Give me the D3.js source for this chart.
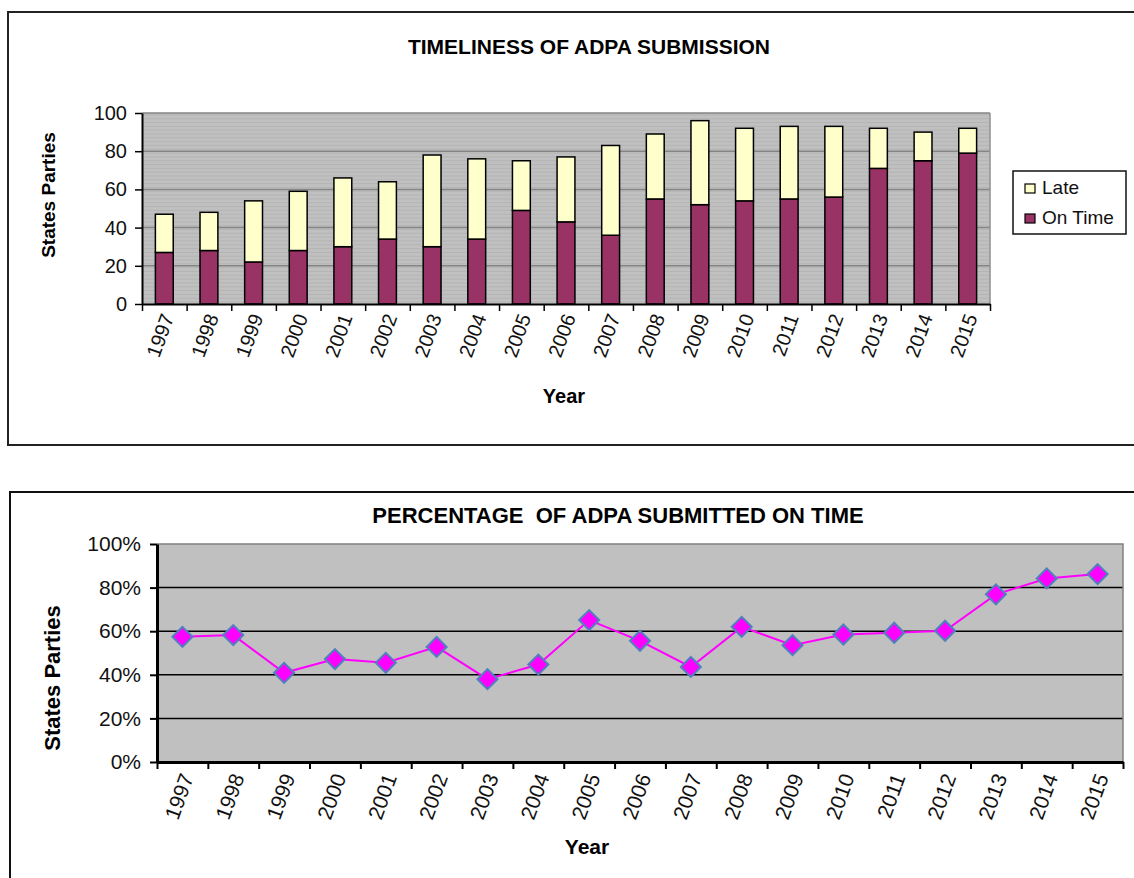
<!DOCTYPE html>
<html>
<head>
<meta charset="utf-8">
<script src="https://cdn.jsdelivr.net/npm/d3@7"></script>
<style>
  html, body { margin: 0; padding: 0; background: #fff; }
  svg { display: block; font-family: Arial, "Liberation Sans", sans-serif; }
</style>
</head>
<body>
<svg id="chart" width="1134" height="878"></svg>
<script>
// chart data
const years = ['1997', '1998', '1999', '2000', '2001', '2002', '2003', '2004', '2005', '2006',
               '2007', '2008', '2009', '2010', '2011', '2012', '2013', '2014', '2015'];
const onTime = [27, 28, 22, 28, 30, 34, 30, 34, 49, 43, 36, 55, 52, 54, 55, 56, 71, 75, 79];
const late   = [20, 20, 32, 31, 36, 30, 48, 42, 26, 34, 47, 34, 44, 38, 38, 37, 21, 15, 13];
const pctOnTime = [57.4, 58.2, 40.9, 47.2, 45.5, 52.8, 38.0, 44.7, 65.1, 55.6,
                   43.6, 62.0, 53.6, 58.5, 59.3, 60.2, 76.9, 84.2, 86.2];
const countTicks = [0, 20, 40, 60, 80, 100];
const pctTicks = [0, 0.2, 0.4, 0.6, 0.8, 1];
const seriesNames = ['Late', 'On Time'];
const seriesColors = { 'On Time': '#993366', 'Late': '#ffffcc' };

const svg = d3.select('#chart');

// ---------- top chart: stacked bars ----------
const area1 = { left: 142, right: 990, top: 113, bottom: 304 };

svg.append('rect')
    .attr('x', 8).attr('y', 12).attr('width', 1200).attr('height', 433)
    .attr('fill', 'none').attr('stroke', '#222').attr('stroke-width', 2);

const x1 = d3.scaleBand().domain(years).range([area1.left, area1.right])
    .paddingInner(0.6).paddingOuter(0.3);
const x1Edges = d3.scaleLinear().domain([0, years.length]).range([area1.left, area1.right]);
const y1 = d3.scaleLinear().domain([0, 100]).range([area1.bottom, area1.top]);

svg.append('rect')
    .attr('x', area1.left).attr('y', area1.top)
    .attr('width', area1.right - area1.left).attr('height', area1.bottom - area1.top)
    .attr('fill', '#c0c0c0');

// faint striped texture of the plot fill
svg.append('g').selectAll('line')
    .data(d3.range(1, 100, 2))
    .join('line')
    .attr('x1', area1.left).attr('x2', area1.right)
    .attr('y1', d => y1(d)).attr('y2', d => y1(d))
    .attr('stroke', '#b4b4b4').attr('stroke-width', 1);

svg.append('g').selectAll('line')
    .data(countTicks.slice(1))
    .join('line')
    .attr('x1', area1.left).attr('x2', area1.right)
    .attr('y1', d => y1(d)).attr('y2', d => y1(d))
    .attr('stroke', '#858585').attr('stroke-width', 1.5);

svg.append('line')
    .attr('x1', area1.right).attr('x2', area1.right)
    .attr('y1', area1.top).attr('y2', area1.bottom)
    .attr('stroke', '#909090').attr('stroke-width', 1.5);

const stacked = d3.stack().keys(['On Time', 'Late'])(
    years.map((y, i) => ({ year: y, 'On Time': onTime[i], 'Late': late[i] }))
);

svg.append('g').selectAll('g')
    .data(stacked)
    .join('g')
    .attr('fill', d => seriesColors[d.key])
    .selectAll('rect')
    .data(d => d)
    .join('rect')
    .attr('x', d => x1(d.data.year))
    .attr('width', x1.bandwidth())
    .attr('y', d => y1(d[1]))
    .attr('height', d => y1(d[0]) - y1(d[1]))
    .attr('stroke', '#000').attr('stroke-width', 1.5);

const yAxis1 = svg.append('g')
    .attr('transform', `translate(${area1.left},0)`)
    .call(d3.axisLeft(y1).tickValues(countTicks).tickSize(7).tickPadding(8).tickSizeOuter(0));
yAxis1.select('.domain').attr('stroke', '#000').attr('stroke-width', 2);
yAxis1.selectAll('.tick line').attr('stroke', '#000').attr('stroke-width', 1.5);
yAxis1.selectAll('text').attr('font-size', 20).attr('fill', '#111')
    .attr('font-family', 'Arial, "Liberation Sans", sans-serif');

const xEdges1 = svg.append('g')
    .attr('transform', `translate(0,${area1.bottom})`)
    .call(d3.axisBottom(x1Edges).ticks(years.length).tickFormat('').tickSize(7).tickSizeOuter(0));
xEdges1.select('.domain').attr('stroke', '#000').attr('stroke-width', 2);
xEdges1.selectAll('.tick line').attr('stroke', '#000').attr('stroke-width', 1.5);

const xLabels1 = svg.append('g')
    .attr('transform', `translate(0,${area1.bottom})`)
    .call(d3.axisBottom(x1).tickSize(0).tickPadding(0));
xLabels1.select('.domain').remove();
xLabels1.selectAll('text')
    .attr('font-size', 20).attr('fill', '#111')
    .attr('font-family', 'Arial, "Liberation Sans", sans-serif')
    .attr('text-anchor', 'end')
    .attr('dy', null)
    .attr('transform', 'translate(10,13) rotate(-70)');

svg.append('text')
    .attr('x', 589).attr('y', 54)
    .attr('text-anchor', 'middle')
    .attr('font-size', 21).attr('font-weight', 'bold')
    .text('TIMELINESS OF ADPA SUBMISSION');

svg.append('text')
    .attr('transform', 'translate(55,195) rotate(-90)')
    .attr('text-anchor', 'middle')
    .attr('font-size', 19).attr('font-weight', 'bold')
    .text('States Parties');

svg.append('text')
    .attr('x', 564).attr('y', 403)
    .attr('text-anchor', 'middle')
    .attr('font-size', 20).attr('font-weight', 'bold')
    .text('Year');

// legend
const legend = svg.append('g').attr('transform', 'translate(1013,171)');
legend.append('rect')
    .attr('width', 113).attr('height', 63)
    .attr('fill', '#fff').attr('stroke', '#111').attr('stroke-width', 1.5);
const legendItem = legend.selectAll('g.item')
    .data(seriesNames)
    .join('g')
    .attr('class', 'item')
    .attr('transform', (d, i) => `translate(12,${13 + i * 30})`);
legendItem.append('rect')
    .attr('width', 10).attr('height', 9)
    .attr('fill', d => seriesColors[d]).attr('stroke', '#000').attr('stroke-width', 1.2);
legendItem.append('text')
    .attr('x', 17).attr('y', 10)
    .attr('font-size', 19).attr('fill', '#111')
    .text(d => d);

// ---------- bottom chart: percentage line ----------
const area2 = { left: 157, right: 1123, top: 544, bottom: 762 };

svg.append('rect')
    .attr('x', 10).attr('y', 492).attr('width', 1200).attr('height', 500)
    .attr('fill', 'none').attr('stroke', '#111').attr('stroke-width', 2);

const x2 = d3.scalePoint().domain(years).range([area2.left, area2.right]).padding(0.5);
const x2Edges = d3.scaleLinear().domain([0, years.length]).range([area2.left, area2.right]);
const y2 = d3.scaleLinear().domain([0, 1]).range([area2.bottom, area2.top]);

svg.append('rect')
    .attr('x', area2.left).attr('y', area2.top)
    .attr('width', area2.right - area2.left).attr('height', area2.bottom - area2.top)
    .attr('fill', '#c0c0c0');

svg.append('g').selectAll('line')
    .data(pctTicks.slice(1, -1))
    .join('line')
    .attr('x1', area2.left).attr('x2', area2.right)
    .attr('y1', d => y2(d)).attr('y2', d => y2(d))
    .attr('stroke', '#000').attr('stroke-width', 1.5);

svg.append('path')
    .attr('d', `M${area2.left},${area2.top}H${area2.right}V${area2.bottom}`)
    .attr('fill', 'none').attr('stroke', '#808080').attr('stroke-width', 1.5);

const yAxis2 = svg.append('g')
    .attr('transform', `translate(${area2.left},0)`)
    .call(d3.axisLeft(y2).tickValues(pctTicks).tickFormat(d3.format('.0%'))
        .tickSize(7).tickPadding(9).tickSizeOuter(0));
yAxis2.select('.domain').attr('stroke', '#000').attr('stroke-width', 3);
yAxis2.selectAll('.tick line').attr('stroke', '#000').attr('stroke-width', 2);
yAxis2.selectAll('text').attr('font-size', 21).attr('fill', '#111')
    .attr('font-family', 'Arial, "Liberation Sans", sans-serif');

const xEdges2 = svg.append('g')
    .attr('transform', `translate(0,${area2.bottom})`)
    .call(d3.axisBottom(x2Edges).ticks(years.length).tickFormat('').tickSize(7).tickSizeOuter(0));
xEdges2.select('.domain').attr('stroke', '#000').attr('stroke-width', 3);
xEdges2.selectAll('.tick line').attr('stroke', '#000').attr('stroke-width', 2);

const xLabels2 = svg.append('g')
    .attr('transform', `translate(0,${area2.bottom})`)
    .call(d3.axisBottom(x2).tickSize(0).tickPadding(0));
xLabels2.select('.domain').remove();
xLabels2.selectAll('text')
    .attr('font-size', 21).attr('fill', '#111')
    .attr('font-family', 'Arial, "Liberation Sans", sans-serif')
    .attr('text-anchor', 'end')
    .attr('dy', null)
    .attr('transform', 'translate(11,15) rotate(-70)');

const line = d3.line()
    .x((d, i) => x2(years[i]))
    .y(d => y2(d / 100));

svg.append('path')
    .datum(pctOnTime)
    .attr('d', line)
    .attr('fill', 'none').attr('stroke', '#ff00ff').attr('stroke-width', 2);

svg.append('g').selectAll('path')
    .data(pctOnTime)
    .join('path')
    .attr('d', d3.symbol(d3.symbolSquare, 200))
    .attr('transform', (d, i) => `translate(${x2(years[i])},${y2(d / 100)}) rotate(45)`)
    .attr('fill', '#ff00ff').attr('stroke', '#4f81bd').attr('stroke-width', 2);

svg.append('text')
    .attr('x', 618).attr('y', 523)
    .attr('text-anchor', 'middle')
    .attr('font-size', 22).attr('font-weight', 'bold')
    .style('white-space', 'pre')
    .text('PERCENTAGE  OF ADPA SUBMITTED ON TIME');

svg.append('text')
    .attr('transform', 'translate(60,678) rotate(-90)')
    .attr('text-anchor', 'middle')
    .attr('font-size', 22).attr('font-weight', 'bold')
    .text('States Parties');

svg.append('text')
    .attr('x', 587).attr('y', 854)
    .attr('text-anchor', 'middle')
    .attr('font-size', 21).attr('font-weight', 'bold')
    .text('Year');
</script>
</body>
</html>
